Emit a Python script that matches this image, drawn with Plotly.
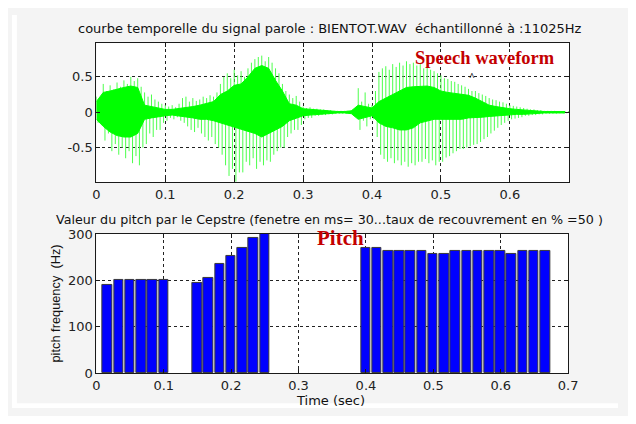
import plotly.graph_objects as go

# page is 636x424; the browser body keeps its default 8px margin,
# so the figure is 620x408 placed at (8, 8)
PAGE_W, PAGE_H = 636, 424
OFF = 8
W, H = PAGE_W - 2 * OFF, PAGE_H - 2 * OFF

# ---------------- data ----------------
# speech waveform: positive / negative peak amplitudes read every 5 ms
spike_t = [0.000, 0.005, 0.010, 0.015, 0.020, 0.025, 0.030, 0.035, 0.040, 0.045,
           0.050, 0.055, 0.060, 0.065, 0.070, 0.075, 0.080, 0.085, 0.090, 0.095,
           0.100, 0.105, 0.110, 0.115, 0.120, 0.125, 0.130, 0.135, 0.140, 0.145,
           0.150, 0.155, 0.160, 0.165, 0.170, 0.175, 0.180, 0.185, 0.190, 0.195,
           0.200, 0.205, 0.210, 0.215, 0.220, 0.225, 0.230, 0.235, 0.240, 0.245,
           0.250, 0.255, 0.260, 0.265, 0.270, 0.275, 0.280, 0.285, 0.290, 0.295,
           0.300, 0.305, 0.310, 0.315, 0.320, 0.325, 0.330, 0.335, 0.340, 0.345,
           0.350, 0.355, 0.360, 0.365, 0.370, 0.375, 0.380, 0.385, 0.390, 0.395,
           0.400, 0.405, 0.410, 0.415, 0.420, 0.425, 0.430, 0.435, 0.440, 0.445,
           0.450, 0.455, 0.460, 0.465, 0.470, 0.475, 0.480, 0.485, 0.490, 0.495,
           0.500, 0.505, 0.510, 0.515, 0.520, 0.525, 0.530, 0.535, 0.540, 0.545,
           0.550, 0.555, 0.560, 0.565, 0.570, 0.575, 0.580, 0.585, 0.590, 0.595,
           0.600, 0.605, 0.610, 0.615, 0.620, 0.625, 0.630, 0.635, 0.640, 0.645,
           0.650, 0.655, 0.660, 0.665, 0.670, 0.675, 0.680, 0.685]
spike_hi = [0.22, 0.15, 0.40, 0.30, 0.38, 0.32, 0.42, 0.36, 0.45, 0.40,
            0.50, 0.44, 0.48, 0.36, 0.28, 0.22, 0.25, 0.18, 0.15, 0.12,
            0.10, 0.08, 0.10, 0.07, 0.12, 0.20, 0.22, 0.15, 0.20, 0.16,
            0.18, 0.22, 0.20, 0.24, 0.22, 0.28, 0.40, 0.50, 0.55, 0.48,
            0.60, 0.52, 0.58, 0.50, 0.62, 0.70, 0.75, 0.78, 0.80, 0.72,
            0.78, 0.70, 0.62, 0.55, 0.40, 0.30, 0.25, 0.20, 0.23, 0.15,
            0.08, 0.06, 0.07, 0.05, 0.05, 0.04, 0.04, 0.03, 0.03, 0.02,
            0.02, 0.02, 0.02, 0.02, 0.03, 0.05, 0.34, 0.15, 0.28, 0.12,
            0.10, 0.30, 0.57, 0.62, 0.65, 0.60, 0.68, 0.64, 0.70, 0.66,
            0.72, 0.68, 0.70, 0.66, 0.68, 0.62, 0.64, 0.60, 0.58, 0.55,
            0.52, 0.48, 0.47, 0.44, 0.43, 0.40, 0.38, 0.36, 0.33, 0.30,
            0.30, 0.27, 0.25, 0.23, 0.20, 0.18, 0.17, 0.15, 0.14, 0.12,
            0.10, 0.09, 0.08, 0.07, 0.06, 0.05, 0.04, 0.04, 0.03, 0.03,
            0.02, 0.02, 0.02, 0.02, 0.015, 0.015, 0.015, 0.015]
spike_lo = [-0.15, -0.10, -0.40, -0.30, -0.55, -0.45, -0.60, -0.50, -0.65, -0.55,
            -0.72, -0.62, -0.75, -0.50, -0.45, -0.30, -0.35, -0.25, -0.25, -0.15,
            -0.12, -0.08, -0.10, -0.07, -0.12, -0.15, -0.20, -0.25, -0.28, -0.22,
            -0.30, -0.35, -0.40, -0.35, -0.45, -0.50, -0.60, -0.75, -0.90, -0.80,
            -0.98, -0.85, -0.85, -0.70, -0.75, -0.65, -0.80, -0.70, -0.75, -0.68,
            -0.70, -0.60, -0.55, -0.50, -0.50, -0.35, -0.30, -0.25, -0.25, -0.18,
            -0.10, -0.08, -0.08, -0.05, -0.05, -0.04, -0.04, -0.03, -0.03, -0.02,
            -0.02, -0.02, -0.02, -0.02, -0.03, -0.05, -0.25, -0.12, -0.20, -0.10,
            -0.10, -0.35, -0.60, -0.66, -0.70, -0.65, -0.72, -0.68, -0.75, -0.70,
            -0.77, -0.72, -0.75, -0.70, -0.70, -0.66, -0.72, -0.68, -0.75, -0.70,
            -0.70, -0.64, -0.62, -0.58, -0.55, -0.52, -0.52, -0.50, -0.48, -0.46,
            -0.45, -0.42, -0.38, -0.35, -0.30, -0.26, -0.22, -0.18, -0.15, -0.12,
            -0.10, -0.09, -0.08, -0.07, -0.05, -0.05, -0.04, -0.04, -0.03, -0.03,
            -0.02, -0.02, -0.02, -0.02, -0.015, -0.015, -0.015, -0.015]

# dense core of the waveform, read every 10 ms
core_t = [0.00, 0.01, 0.02, 0.03, 0.04, 0.05, 0.06, 0.07, 0.08, 0.09,
          0.10, 0.11, 0.12, 0.13, 0.14, 0.15, 0.16, 0.17, 0.18, 0.19,
          0.20, 0.21, 0.22, 0.23, 0.24, 0.25, 0.26, 0.27, 0.28, 0.29,
          0.30, 0.31, 0.32, 0.33, 0.34, 0.35, 0.36, 0.37, 0.38, 0.39,
          0.40, 0.41, 0.42, 0.43, 0.44, 0.45, 0.46, 0.47, 0.48, 0.49,
          0.50, 0.51, 0.52, 0.53, 0.54, 0.55, 0.56, 0.57, 0.58, 0.59,
          0.60, 0.61, 0.62, 0.63, 0.64, 0.65, 0.66, 0.67, 0.68]
core_hi = [0.15, 0.28, 0.30, 0.33, 0.35, 0.37, 0.35, 0.10, 0.08, 0.06,
           0.04, 0.04, 0.05, 0.06, 0.08, 0.10, 0.12, 0.15, 0.25, 0.30,
           0.38, 0.40, 0.50, 0.62, 0.66, 0.62, 0.45, 0.30, 0.12, 0.10,
           0.05, 0.04, 0.03, 0.02, 0.01, 0.01, 0.01, 0.02, 0.10, 0.08,
           0.06, 0.15, 0.20, 0.25, 0.30, 0.35, 0.36, 0.37, 0.37, 0.35,
           0.30, 0.28, 0.27, 0.26, 0.24, 0.20, 0.15, 0.10, 0.08, 0.06,
           0.05, 0.04, 0.03, 0.02, 0.02, 0.01, 0.01, 0.01, 0.01]
core_lo = [-0.10, -0.20, -0.28, -0.33, -0.35, -0.35, -0.30, -0.10, -0.08, -0.06,
           -0.05, -0.04, -0.05, -0.06, -0.08, -0.10, -0.10, -0.12, -0.15, -0.18,
           -0.22, -0.25, -0.28, -0.30, -0.35, -0.30, -0.25, -0.20, -0.12, -0.08,
           -0.05, -0.04, -0.03, -0.02, -0.01, -0.01, -0.01, -0.02, -0.10, -0.08,
           -0.05, -0.15, -0.20, -0.22, -0.25, -0.25, -0.22, -0.15, -0.12, -0.10,
           -0.10, -0.10, -0.10, -0.10, -0.08, -0.08, -0.07, -0.06, -0.05, -0.05,
           -0.04, -0.03, -0.03, -0.02, -0.02, -0.01, -0.01, -0.01, -0.01]

# pitch per analysis frame
pitch_t = [0.0167, 0.0333, 0.0500, 0.0666, 0.0833, 0.0999,
           0.1499, 0.1665, 0.1832, 0.1998, 0.2165, 0.2331, 0.2498,
           0.3996, 0.4163, 0.4329, 0.4496, 0.4662, 0.4829, 0.4995, 0.5162,
           0.5328, 0.5495, 0.5661, 0.5828, 0.5994, 0.6161, 0.6327, 0.6494, 0.6660]
pitch_hz = [191, 200, 200, 200, 200, 200,
            195, 205, 236, 253, 270, 292, 300,
            270, 270, 263, 263, 263, 263, 257, 257,
            263, 263, 263, 263, 263, 257, 263, 263, 263]

top_xticks = [0, 0.1, 0.2, 0.3, 0.4, 0.5, 0.6]
top_yticks = [-0.5, 0, 0.5]
top_ytext = ["-0.5", "0", "0.5"]
bot_xticks = [0, 0.1, 0.2, 0.3, 0.4, 0.5, 0.6, 0.7]
bot_yticks = [0, 100, 200, 300]

title_top = "courbe temporelle du signal parole : BIENTOT.WAV  échantillonné à :11025Hz"
title_bot = "Valeur du pitch par le Cepstre (fenetre en ms= 30...taux de recouvrement en % =50 )"

# ---------------- figure ----------------
GREEN = "#00ff00"
FONT = "DejaVu Sans, Verdana, sans-serif"
FONT_V = "Liberation Sans, Arial, sans-serif"
SERIF = "Liberation Serif, Times New Roman, serif"

def px(x):
    # page pixel -> paper fraction
    return (x - OFF) / W

def py(y):
    return 1 - (y - OFF) / H

fig = go.Figure()

# individual spikes (positive at t, negative half a step later)
sx, sy = [], []
for t, hi, lo in zip(spike_t, spike_hi, spike_lo):
    sx += [t, t, None, t + 0.0025, t + 0.0025, None]
    sy += [0, hi, None, 0, lo, None]
fig.add_trace(go.Scatter(x=sx, y=sy, mode="lines", line=dict(color="#4cff4c", width=1),
                         xaxis="x", yaxis="y", hoverinfo="skip", showlegend=False))
# dense core
fig.add_trace(go.Scatter(x=core_t, y=core_hi, mode="lines", line=dict(color=GREEN, width=1),
                         xaxis="x", yaxis="y", showlegend=False))
fig.add_trace(go.Scatter(x=core_t, y=core_lo, mode="lines", line=dict(color=GREEN, width=1),
                         fill="tonexty", fillcolor=GREEN,
                         xaxis="x", yaxis="y", showlegend=False))

fig.add_trace(go.Bar(x=pitch_t, y=pitch_hz, width=0.0142,
                     marker=dict(color="#0000ff", line=dict(color="#3a3a3a", width=1)),
                     xaxis="x2", yaxis="y2", showlegend=False))

axis_common = dict(showline=True, linecolor="#1a1a1a", linewidth=1, mirror="ticks",
                   ticks="inside", ticklen=4, tickcolor="#1a1a1a",
                   showgrid=True, gridcolor="#222222", griddash="3px,3px", gridwidth=1,
                   zeroline=False, tickfont=dict(family=FONT, size=13, color="#222"))

fig.update_layout(
    width=W, height=H,
    margin=dict(l=0, r=0, t=0, b=0),
    paper_bgcolor="#f4f4f4", plot_bgcolor="white",
    bargap=0,
    xaxis=dict(domain=[px(94.3), px(578)], range=[0, 0.686], tickvals=top_xticks,
               anchor="y", **axis_common),
    yaxis=dict(domain=[py(181.7), py(37.3)], range=[-0.99, 0.975], tickvals=top_yticks,
               ticktext=top_ytext, anchor="x", **axis_common),
    xaxis2=dict(domain=[px(94.3), px(577)], range=[0, 0.7], tickvals=bot_xticks,
                anchor="y2", **axis_common),
    yaxis2=dict(domain=[py(380), py(235.3)], range=[0, 300], tickvals=bot_yticks,
                anchor="x2", **axis_common),
)

shapes = [
    dict(type="rect", xref="paper", yref="paper", x0=0, x1=px(13), y0=0, y1=1,
         fillcolor="white", line=dict(width=0), layer="below"),
    dict(type="rect", xref="paper", yref="paper", x0=0, x1=1, y0=0, y1=py(411),
         fillcolor="white", line=dict(width=0), layer="below"),
]
fig.update_layout(shapes=shapes)

def ann(text, x, y, size, color="#111", family=FONT, bold=False, angle=0):
    t = f"<b>{text}</b>" if bold else text
    return dict(text=t, x=px(x), y=py(y), xref="paper", yref="paper", showarrow=False,
                xanchor="center", yanchor="middle", textangle=angle,
                font=dict(family=family, size=size, color=color))

fig.update_layout(annotations=[
    ann(title_top, 333.5, 22, 13),
    ann(title_bot, 332.5, 220, 12.7),
    ann("Time (sec)", 334, 408, 13),
    ann("pitch frequency  (Hz)", 52.5, 307, 12.8, family=FONT_V, angle=-90),
    ann("Speech waveform", 491.5, 53, 18.5, color="#c40000", family=SERIF, bold=True),
    ann("Pitch", 344.5, 239, 21, color="#c40000", family=SERIF, bold=True),
    ann("^", 479, 72, 10, color="#000", family=SERIF, bold=True),
])

fig.write_html("out.html", config={"displayModeBar": False})
